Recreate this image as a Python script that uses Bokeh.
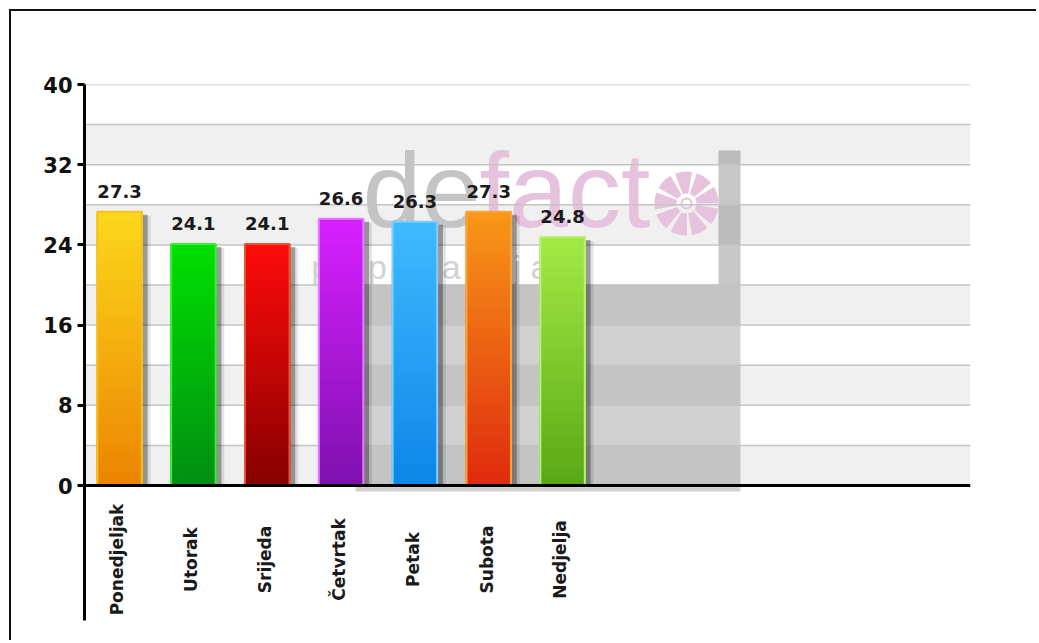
import numpy as np
from bokeh.plotting import figure
from bokeh.models import Range1d, FixedTicker
from bokeh.embed import file_html
from bokeh.resources import INLINE
from bokeh.core.properties import value

# ---- data ----
days = ["Ponedjeljak", "Utorak", "Srijeda", "Četvrtak", "Petak", "Subota", "Nedjelja"]
values = [27.3, 24.1, 24.1, 26.6, 26.3, 27.3, 24.8]
y_ticks = [0, 8, 16, 24, 32, 40]
grid_steps = [0, 4, 8, 12, 16, 20, 24, 28, 32, 36, 40]
top_colors = ["#fcd81c", "#00e000", "#ff0a0a", "#d820ff", "#40baff", "#f89818", "#a4ea44"]
bottom_colors = ["#ec8400", "#008e12", "#880000", "#7e10ae", "#0c86e6", "#e02a0e", "#58a816"]
edge_colors = ["#f6c020", "#3af03a", "#e4542e", "#e47cff", "#7cceff", "#f8a438", "#bcf078"]

FONT = "DejaVu Sans"

# ---- layout constants (page pixels) ----
ORG = 11                       # content origin (after margin + border)
W, H = 1027, 631
AX_X, AX_Y0, AX_Y40, AX_XEND, AX_YBOT = 84, 485, 84, 970, 620
ppx = (AX_XEND - AX_X) / 12.0
ppy = (AX_Y0 - AX_Y40) / 40.0
X0 = -0.475
XEND = X0 + 12.0
YBOT = -(AX_YBOT - AX_Y0) / ppy


def sx(px):
    return X0 + (px - AX_X) / ppx


def sy(py):
    return (AX_Y0 - py) / ppy


p = figure(width=W, height=H, output_backend="svg", toolbar_location=None,
           x_range=Range1d(X0, XEND), y_range=Range1d(YBOT, 40),
           x_axis_location=None,
           min_border_left=AX_X - ORG, min_border_top=AX_Y40 - ORG,
           min_border_right=ORG + W - AX_XEND, min_border_bottom=ORG + H - AX_YBOT)
p.styles = {"margin-left": "9px", "margin-top": "9px",
            "border-top": "2px solid #111111", "border-left": "2px solid #111111"}
p.outline_line_color = None
p.background_fill_color = "white"
p.border_fill_color = "white"
p.xgrid.visible = False
p.ygrid.visible = False

# y axis
ax = p.yaxis[0]
ax.ticker = FixedTicker(ticks=y_ticks)
ax.axis_line_width = 3
ax.axis_line_color = "black"
ax.major_tick_line_width = 3
ax.major_tick_out = 7
ax.major_tick_in = 0
ax.minor_tick_line_color = None
ax.major_label_text_font = FONT
ax.major_label_text_font_style = "bold"
ax.major_label_text_font_size = "21px"
ax.major_label_text_color = "#111111"
ax.major_label_standoff = 5

# alternating bands
band_b = grid_steps[0:-1:2]
band_t = grid_steps[1::2]
p.quad(left=X0, right=XEND, bottom=band_b, top=band_t, fill_color="#f0f0f0", line_color=None)

# ---- watermark ----
p.quad(left=sx(355), right=sx(740), bottom=sy(491), top=sy(284),
       fill_color="black", fill_alpha=0.18, line_color=None)
p.quad(left=sx(718), right=sx(740), bottom=sy(284), top=sy(150),
       fill_color="black", fill_alpha=0.22, line_color=None)
p.text(x=[sx(362)], y=[sy(189)], text=["de"], text_font=value("Liberation Sans"),
       text_font_size="106px", text_color="#c4c4c4", text_baseline="alphabetic")
p.text(x=[sx(479)], y=[sy(189)], text=["fact"], text_font=value("Liberation Sans"),
       text_font_size="106px", text_color="#e6c2dc", text_baseline="alphabetic")
ang = np.deg2rad(np.arange(0, 360, 40))
p.annular_wedge(x=sx(686), y=sy(203), inner_radius=10, outer_radius=32,
                inner_radius_units="screen", outer_radius_units="screen",
                start_angle=ang, end_angle=ang + np.deg2rad(31),
                fill_color="#e6c2dc", line_color=None)
p.circle(x=[sx(686)], y=[sy(203)], radius=5, radius_units="screen",
         fill_color=None, line_color="#e6c2dc", line_width=2)
p.text(x=[sx(719)], y=[sy(266)], text=["p   o   p   u   l   a   c   i   j   a"],
       text_font=value("Liberation Sans"), text_font_size="34px", text_color="#d2d2d2",
       text_align="right", text_baseline="alphabetic")

# gridlines
p.segment(x0=X0, x1=XEND, y0=grid_steps[1:], y1=grid_steps[1:], line_color="#c4c4c4", line_width=1.5)

# ---- bars ----
xs = np.arange(len(days))
bw = 46 / ppx
N = 40


def mix(c1, c2, t):
    a = np.array([int(c1[i:i + 2], 16) for i in (1, 3, 5)], dtype=float)
    b = np.array([int(c2[i:i + 2], 16) for i in (1, 3, 5)], dtype=float)
    c = a * (1 - t) + b * t
    return "#%02x%02x%02x" % tuple(int(round(v)) for v in c)


# shadows
vals = np.array(values)
p.quad(left=xs + bw / 2, right=xs + bw / 2 + 8 / ppx, bottom=0,
       top=vals - 4 / ppy, fill_color="black", fill_alpha=0.10, line_color=None)
p.quad(left=xs + bw / 2, right=xs + bw / 2 + 5 / ppx, bottom=0,
       top=vals - 3 / ppy, fill_color="black", fill_alpha=0.32, line_color=None)

# gradient bars (overlapping slices, drawn bottom to top)
L, R, B, T, C = [], [], [], [], []
for i, v in enumerate(values):
    edges = np.linspace(0, v, N + 1)
    for k in range(N):
        L.append(i - bw / 2)
        R.append(i + bw / 2)
        B.append(edges[k])
        T.append(edges[min(k + 2, N)])
        C.append(mix(bottom_colors[i], top_colors[i], (k + 0.5) / N))
p.quad(left=L, right=R, bottom=B, top=T, fill_color=C, line_color=None)
p.vbar(x=xs, top=values, bottom=0, width=bw - 1.5 / ppx, fill_color=None,
       line_color=edge_colors, line_width=2)

# value labels
p.text(x=xs, y=values, text=[f"{v:.1f}" for v in values], y_offset=-20,
       text_font=value(FONT), text_font_style="bold", text_font_size="18px",
       text_color="#1a1a1a", text_align="center", text_baseline="alphabetic")

# x axis line
p.segment(x0=[X0], x1=[XEND], y0=[0], y1=[0], line_color="black", line_width=3)

# category labels
p.text(x=xs - 0.03, y=sy(559), text=days, angle=np.pi / 2,
       text_font=value(FONT), text_font_style="bold", text_font_size="17px",
       text_color="#1a1a1a", text_align="center", text_baseline="middle")

open("out.html", "w").write(file_html(p, INLINE))
